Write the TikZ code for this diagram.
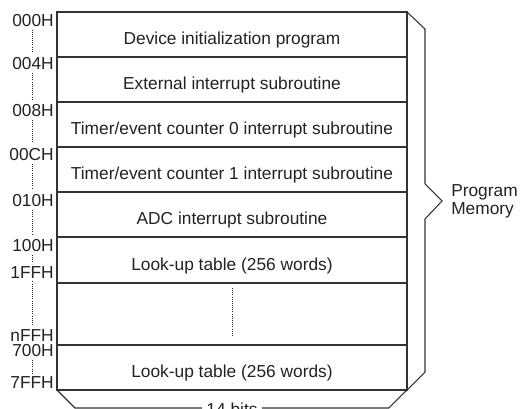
\documentclass[tikz,border=0pt]{standalone}
\usepackage{fontspec}
\setmainfont{Liberation Sans}
\usetikzlibrary{positioning}
\definecolor{linegray}{HTML}{333333}
\definecolor{textgray}{HTML}{222222}
\begin{document}
\begin{tikzpicture}[x=0.75pt,y=-0.75pt,
    cell/.style={draw=linegray, line width=1pt, minimum width=262.5pt, inner sep=0pt, outer sep=0pt},
    txt/.style={font=\fontsize{13}{13.5}\selectfont, text=textgray},
    addr/.style={font=\fontsize{13}{13.5}\selectfont, text=textgray, anchor=east, inner sep=0pt},
    dots/.style={densely dotted, line width=0.6pt, draw=textgray},
    brace/.style={draw=linegray, line width=0.8pt}]
\useasboundingbox (0,0) rectangle (520,409);

% memory rows
\node[cell, minimum height=33.75pt] (r1) at (232,34.5) {};
\node[cell, minimum height=33.75pt] (r2) at (232,79.5) {};
\node[cell, minimum height=33.75pt] (r3) at (232,124.5) {};
\node[cell, minimum height=33.75pt] (r4) at (232,169.5) {};
\node[cell, minimum height=33.75pt] (r5) at (232,214.5) {};
\node[cell, minimum height=34.5pt] (r6) at (232,260) {};
\node[cell, minimum height=46.5pt] (r7) at (232,314) {};
\node[cell, minimum height=33.75pt] (r8) at (232,367.5) {};

\node[txt] at ([yshift=-4.5pt]r1.center) {Device initialization program};
\node[txt] at ([yshift=-4.5pt]r2.center) {External interrupt subroutine};
\node[txt] at ([yshift=-4pt]r3.center) {Timer/event counter 0 interrupt subroutine};
\node[txt] at ([yshift=-4pt]r4.center) {Timer/event counter 1 interrupt subroutine};
\node[txt] at ([yshift=-4.5pt]r5.center) {ADC interrupt subroutine};
\node[txt] at ([yshift=-4.5pt]r6.center) {Look-up table (256 words)};
\node[txt] at ([yshift=-4.5pt]r8.center) {Look-up table (256 words)};
\draw[dots] ([yshift=-3.75pt]r7.north) -- ([yshift=6pt]r7.south);

% addresses
\coordinate (dx) at (32.5,0);
\node[addr] (a0) at (54,20.5) {000H};
\node[addr] (a1) at (54,64) {004H};
\node[addr] (a2) at (54,111) {008H};
\node[addr] (a3) at (54,155) {00CH};
\node[addr] (a4) at (54,201) {010H};
\node[addr] (a5) at (54,246) {100H};
\node[addr] (a6) at (54,272.5) {1FFH};
\node[addr] (a7) at (54,335.5) {nFFH};
\node[addr] (a8) at (54,351) {700H};
\node[addr] (a9) at (54,382.5) {7FFH};
\draw[dots] ([yshift=-2pt]a0.south -| dx) -- ([yshift=4pt]a1.north -| dx);
\draw[dots] ([yshift=-2pt]a1.south -| dx) -- ([yshift=4pt]a2.north -| dx);
\draw[dots] ([yshift=-2pt]a2.south -| dx) -- ([yshift=4pt]a3.north -| dx);
\draw[dots] ([yshift=-2pt]a3.south -| dx) -- ([yshift=4pt]a4.north -| dx);
\draw[dots] ([yshift=-2pt]a4.south -| dx) -- ([yshift=4pt]a5.north -| dx);
\draw[dots] ([yshift=-2pt]a5.south -| dx) -- ([yshift=2pt]a6.north -| dx);
\draw[dots] ([yshift=-2pt]a6.south -| dx) -- ([yshift=3pt]a7.north -| dx);
\draw[dots] ([yshift=-2pt]a8.south -| dx) -- ([yshift=2pt]a9.north -| dx);

% program memory brace
\coordinate (tip) at (442,201);
\draw[brace] (r1.north east) -- ++(18,17) -- ++(0,155) -- (tip) -- ++(-17,18) -- ++(0,153) -- (r8.south east);
\node[txt, align=left, inner sep=0pt, right=6.75pt of tip] (pm) {Program\\Memory};

% width brace
\node[txt, inner sep=3pt] (bits) at (232,409) {14 bits};
\draw[brace] (r8.south west) -- ++(18,18) -- (bits.west |- 0,408);
\draw[brace] (bits.east |- 0,408) -- ++(127,0) -- (r8.south east);
\end{tikzpicture}
\end{document}
